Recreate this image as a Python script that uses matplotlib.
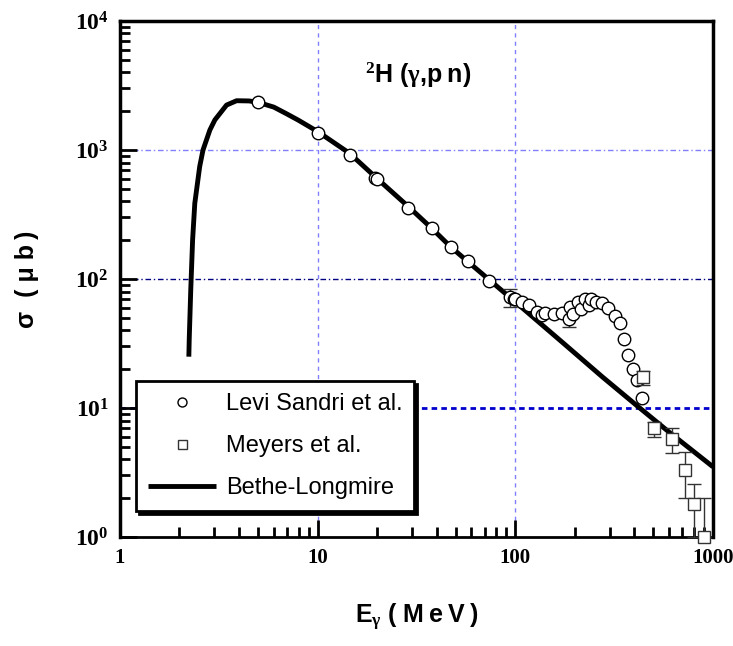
import math
import matplotlib
matplotlib.use("Agg")
import matplotlib.pyplot as plt
from matplotlib.ticker import FixedLocator, FuncFormatter, LogLocator, NullFormatter

plt.rcParams['mathtext.fontset'] = 'custom'
plt.rcParams['mathtext.rm'] = 'Liberation Serif:bold'
plt.rcParams['mathtext.bf'] = 'Liberation Serif:bold'
plt.rcParams['mathtext.it'] = 'Liberation Serif:bold:italic'

# Bethe-Longmire curve
bl_e = [2.23, 2.24, 2.28, 2.33, 2.39, 2.53, 2.63, 2.85, 3.02, 3.46, 3.89, 4.5, 5.0, 6.0,
        7.0, 8.0, 10, 14.5, 20, 29, 38, 47, 57, 73, 100, 173, 276, 407, 600, 1000]
bl_s = [25, 34, 82, 201, 386, 743, 1000, 1430, 1710, 2230, 2410, 2400, 2340, 2150,
        1900, 1700, 1390, 943, 600, 360, 245, 178, 138, 100, 66.4, 32.3, 17.4, 10.6, 6.5, 3.5]

# Levi Sandri et al.
ls_e = [5.0, 10.0, 14.6, 19.4, 19.9, 28.8, 38.1, 47.1, 57.4, 73.3, 94.3, 98.3, 100, 108, 117,
        129, 136, 142, 157, 172, 186, 189, 196, 207, 215, 226, 235, 242, 256, 276, 296,
        318, 338, 355, 371, 394, 415, 436]
ls_s = [2350, 1362, 920, 610, 593, 357, 247, 176, 138, 96.5, 72, 69.6, 70, 66, 63,
        55.8, 52.6, 54.2, 53.5, 54.2, 48.7, 60.3, 53.3, 66, 58.2, 69.6, 63.2, 69.6, 66, 65.7, 59.9,
        51.9, 45.8, 34.1, 25.8, 20.2, 16.5, 11.9]
ls_err_e = [94.3, 186]
ls_err_s = [72, 48.7]
ls_err = [11, 6.5]

# Meyers et al.
my_e = [440, 503, 621, 722, 805, 901]
my_s = [17.5, 6.96, 5.78, 3.31, 1.8, 1.0]
my_lo = [2.4, 0.97, 1.28, 1.31, 0.8, 0.0]
my_hi = [2.0, 0.84, 1.25, 1.27, 0.77, 1.0]

fig = plt.figure(figsize=(7.33, 6.46), dpi=100)
ax = fig.add_axes([0.1637, 0.1687, 0.809, 0.7988])

ax.set_xscale('log')
ax.set_yscale('log')
ax.set_xlim(1, 1000)
ax.set_ylim(1, 1e4)

# grid lines
ax.axvline(10, color='#8080ff', lw=1, ls=(0, (3, 3)), zorder=0)
ax.axvline(100, color='#8080ff', lw=1, ls=(0, (3, 3)), zorder=0)
ax.axhline(1000, color='#8080ff', lw=1, ls=(0, (4, 2, 1, 2)), zorder=0)
ax.axhline(100, color='#000080', lw=1, ls=(0, (4, 2, 1, 2)), zorder=0)
ax.axhline(10, color='#0000cc', lw=2, ls=(0, (2, 1.5)), zorder=0)

ax.plot(bl_e, bl_s, color='black', lw=3.5, solid_capstyle='butt', zorder=3,
        label='Bethe-Longmire')

ax.errorbar(ls_err_e, ls_err_s, yerr=ls_err, fmt='none', ecolor='#333333', elinewidth=1,
            capsize=5, capthick=1, zorder=4)
ax.plot(ls_e, ls_s, 'o', ms=9, mfc='white', mec='black', mew=1, zorder=5,
        label='Levi Sandri et al.')

ax.errorbar(my_e, my_s, yerr=[my_lo, my_hi], fmt='none', ecolor='#333333', elinewidth=1,
            capsize=5, capthick=1, zorder=6, clip_on=False)
ax.plot(my_e, my_s, 's', ms=9, mfc='white', mec='#333333', mew=1, zorder=7, clip_on=False,
        label='Meyers et al.')

# ticks
ax.tick_params(which='both', direction='in', top=False, right=False, width=2)
ax.tick_params(which='major', length=12, pad=8)
ax.tick_params(which='minor', length=7)
ax.xaxis.set_major_locator(FixedLocator([1, 10, 100, 1000]))
ax.xaxis.set_minor_locator(LogLocator(base=10, subs=range(2, 10)))
ax.xaxis.set_minor_formatter(NullFormatter())
ax.xaxis.set_major_formatter(FuncFormatter(lambda v, p: '%d' % v))
ax.yaxis.set_major_locator(FixedLocator([1, 10, 100, 1000, 10000]))
ax.yaxis.set_minor_locator(LogLocator(base=10, subs=range(2, 10)))
ax.yaxis.set_minor_formatter(NullFormatter())
ax.yaxis.set_major_formatter(FuncFormatter(lambda v, p: r'$10^{%d}$' % round(math.log10(v))))
ax.tick_params(axis='y', labelsize=17)
ax.tick_params(axis='x', labelsize=15)
for lab in ax.get_xticklabels():
    lab.set_fontfamily('Liberation Serif')
    lab.set_fontweight('bold')

for s in ax.spines.values():
    s.set_linewidth(2.5)
ax.spines['bottom'].set_linewidth(2)

sans = ['Liberation Sans', 'DejaVu Sans']
ax.set_xlabel('E$_{\\mathrm{\\gamma}}$ ( M\u2009e\u2009V\u2009)', fontsize=18, fontweight='bold',
              family=sans, labelpad=24)
ax.set_ylabel('\u03c3  ( \u03bc b\u2009)', fontsize=18, fontweight='bold',
              family=sans, labelpad=26)

ax.text(0.413, 0.895, '$^{\\mathbf{2}}$H ($\\mathrm{\\gamma}$,p\u2009n)', transform=ax.transAxes,
        fontsize=18, fontweight='bold', family=sans, va='center', ha='left')

h, l = ax.get_legend_handles_labels()
order = [1, 2, 0]
leg = ax.legend([h[i] for i in order], [l[i] for i in order], loc='lower left',
                bbox_to_anchor=(0.027, 0.05), borderaxespad=0, markerscale=0.72,
                handlelength=2.9, labelspacing=0.85, borderpad=0.5, handletextpad=0.4,
                fancybox=False, framealpha=1, edgecolor='black',
                shadow={'color': 'black', 'alpha': 1},
                prop={'family': 'Liberation Sans', 'size': 17})
leg.get_frame().set_linewidth(2)

fig.savefig('out.png', dpi=100)
